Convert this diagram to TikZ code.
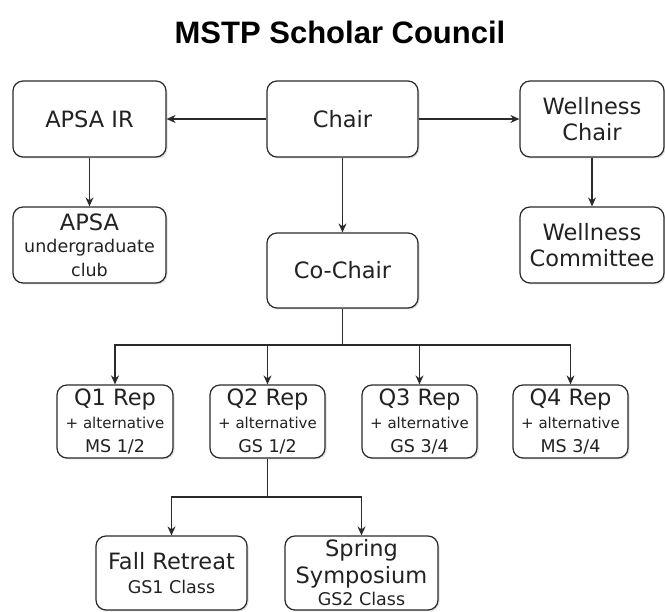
\documentclass[tikz,border=0pt]{standalone}
\usepackage{fontspec}
\setmainfont{DejaVu Sans}
\newfontfamily\titlefont{Liberation Sans}
\usetikzlibrary{arrows.meta,shadows}
\definecolor{ln}{HTML}{2A2A2A}
\definecolor{tx}{HTML}{222222}
\tikzset{
  box/.style={draw=ln, line width=1.2pt, rounded corners=10pt, fill=white, text=tx,
    align=center, inner sep=0pt,
    drop shadow={opacity=0.25, shadow xshift=1.5pt, shadow yshift=-1.5pt},
    font=\fontsize{22.5}{26.5}\selectfont},
  arr/.style={draw=ln, line width=1.2pt, -{Stealth[length=9pt,width=8pt]}},
  conn/.style={draw=ln, line width=1.2pt},
}
\newcommand{\subt}[1]{{\fontsize{17.5}{20}\selectfont #1}}
\newcommand{\alt}[1]{{\fontsize{15}{18}\selectfont #1}}
\begin{document}
\begin{tikzpicture}[x=1pt,y=-1pt]
\useasboundingbox (0,0) rectangle (665,612);
\node[font=\titlefont\bfseries\fontsize{31}{35}\selectfont, text=black] (title) at (340,32) {MSTP Scholar Council};

\node[box, minimum width=153pt, minimum height=76pt] (apsair) at (89.5,119) {APSA IR};
\node[box, minimum width=151pt, minimum height=76pt] (chair) at (342.5,119) {Chair};
\node[box, minimum width=144pt, minimum height=76pt] (wchair) at (592,119) {Wellness\\Chair};
\node[box, minimum width=153pt, minimum height=76pt] (apsa) at (89.5,245) {APSA\\[-4pt]\subt{undergraduate}\\[-3pt]\subt{club}};
\node[box, minimum width=144pt, minimum height=76pt] (wcomm) at (592,245) {Wellness\\Committee};
\node[box, minimum width=151pt, minimum height=75pt] (cochair) at (342.5,270.5) {Co-Chair};

\node[box, minimum width=116pt, minimum height=73pt] (q1) at (115,421.5) {Q1 Rep\\[-4pt]\alt{+ alternative}\\[-2pt]\subt{MS 1/2}};
\node[box, minimum width=115pt, minimum height=73pt] (q2) at (267.5,421.5) {Q2 Rep\\[-4pt]\alt{+ alternative}\\[-2pt]\subt{GS 1/2}};
\node[box, minimum width=115pt, minimum height=73pt] (q3) at (419.5,421.5) {Q3 Rep\\[-4pt]\alt{+ alternative}\\[-2pt]\subt{GS 3/4}};
\node[box, minimum width=115pt, minimum height=73pt] (q4) at (570.5,421.5) {Q4 Rep\\[-4pt]\alt{+ alternative}\\[-2pt]\subt{MS 3/4}};

\node[box, minimum width=151pt, minimum height=74pt] (fall) at (171.5,573) {Fall Retreat\\[-2pt]\subt{GS1 Class}};
\node[box, minimum width=153pt, minimum height=74pt] (spring) at (361.5,573) {Spring\\Symposium\\[-4pt]\subt{GS2 Class}};

\draw[arr] (chair.west) -- (apsair.east);
\draw[arr] (chair.east) -- (wchair.west);
\draw[arr] (apsair.south) -- (apsa.north);
\draw[arr] (wchair.south) -- (wcomm.north);
\draw[arr] (chair.south) -- (cochair.north);

\coordinate (bus1) at (342.5,345);
\draw[conn] (cochair.south) -- (bus1);
\draw[arr] (bus1) -| (q1.north);
\draw[arr] (bus1) -| (q2.north);
\draw[arr] (bus1) -| (q3.north);
\draw[arr] (bus1) -| (q4.north);

\coordinate (bus2) at (267.5,497);
\draw[conn] (q2.south) -- (bus2);
\draw[arr] (bus2) -| (fall.north);
\draw[arr] (bus2) -| (spring.north);
\end{tikzpicture}
\end{document}
